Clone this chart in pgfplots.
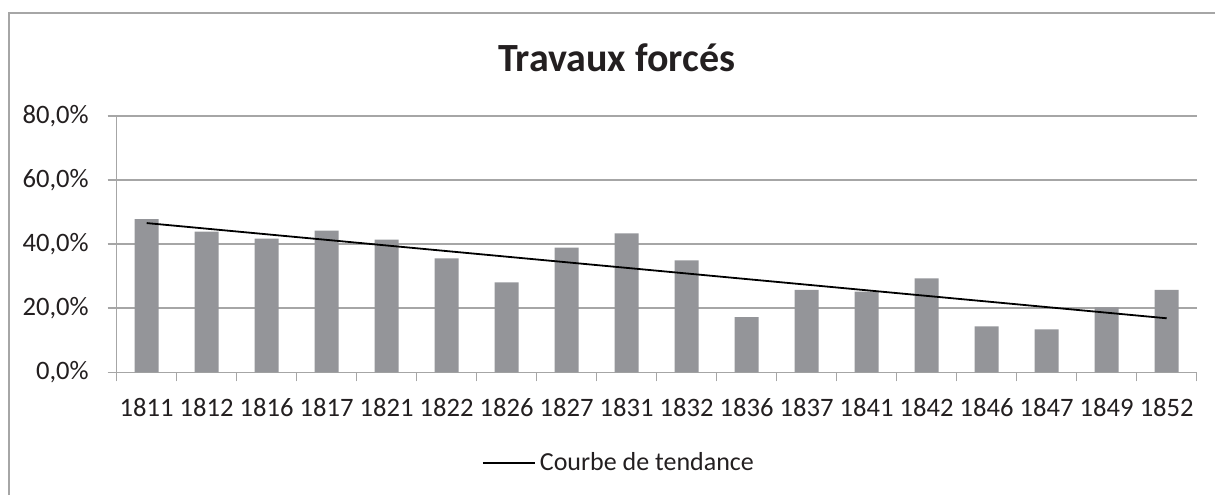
\documentclass[border=0pt]{standalone}
\usepackage{pgfplots}
\pgfplotsset{compat=1.18}
\usepackage{pgfplotstable}
\usepackage{fontspec}
\setmainfont{Carlito}[Numbers={Monospaced,Lining}]
\definecolor{bargray}{RGB}{148,149,153}
\definecolor{gridgray}{RGB}{166,166,166}
\definecolor{txt}{RGB}{35,31,32}

\pgfplotstableread{
x y
0 47.8
1 43.9
2 41.7
3 44.2
4 41.4
5 35.6
6 28.1
7 38.9
8 43.4
9 34.9
10 17.2
11 25.7
12 25.2
13 29.3
14 14.3
15 13.4
16 20.3
17 25.7
}\data

\begin{document}
\begin{tikzpicture}[x=1pt,y=1pt]
\useasboundingbox (0,0) rectangle (607.5,247.5);
\draw[gridgray, line width=1pt] (4.35,0) -- (4.35,241) -- (607.5,241);
\begin{axis}[
  at={(58.35pt,61.35pt)}, anchor=south west,
  scale only axis, width=540pt, height=128.15pt,
  xmin=-0.5, xmax=17.5, ymin=0, ymax=80,
  axis x line*=bottom, axis y line*=left,
  xtick={-0.5,0.5,1.5,2.5,3.5,4.5,5.5,6.5,7.5,8.5,9.5,10.5,11.5,12.5,13.5,14.5,15.5,16.5,17.5},
  x tick label as interval,
  xticklabels={1811,1812,1816,1817,1821,1822,1826,1827,1831,1832,1836,1837,1841,1842,1846,1847,1849,1852},
  ytick={0,20,40,60,80},
  ymajorgrids, grid style={gridgray, line width=0.75pt},
  tick align=outside, major tick length=4.5pt,
  tick style={gridgray, line width=0.75pt},
  axis line style={gridgray, line width=0.75pt},
  /pgf/number format/assume math mode=true,
  yticklabel={\pgfmathprintnumber[fixed,fixed zerofill,precision=1,use comma]{\tick}\%},
  ticklabel style={font=\fontsize{13.3}{15}\selectfont, text=txt},
  xticklabel style={yshift=-5pt},
  yticklabel style={xshift=-6pt},
  every axis title shift=0pt,
  title={Travaux forcés},
  title style={at={(0.463,1.172)}, anchor=base, font=\fontsize{20}{24}\selectfont\bfseries, text=txt},
  legend style={at={(0.466,-0.354)}, anchor=center, draw=none, fill=none, font=\fontsize{13}{15}\selectfont, text=txt},
  legend image code/.code={\draw[#1] (-3.5pt,0pt) -- (22.5pt,0pt);},
]
\addplot[ybar, bar width=12pt, fill=bargray, draw=none, forget plot] table[x=x,y=y]{\data};
\addplot[black, line width=0.9pt] table[x=x, y={create col/linear regression={y=y}}]{\data};
\addlegendentry{Courbe de tendance}
\end{axis}
\end{tikzpicture}
\end{document}
